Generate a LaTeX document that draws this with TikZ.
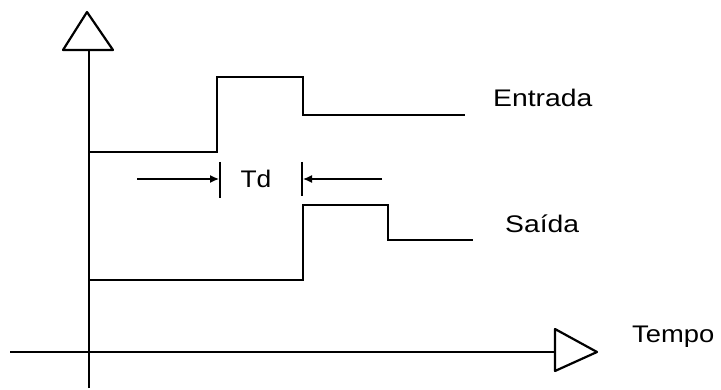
\documentclass[tikz,border=0pt]{standalone}
\usepackage{fontspec}
\setmainfont{Liberation Sans}
\usepackage{graphicx}
\usetikzlibrary{arrows.meta}
\begin{document}
\begin{tikzpicture}[x=1pt,y=-1pt,
  axis/.style={line width=2.6pt},
  sig/.style={line width=2.2pt,line join=miter},
  head/.style={line width=2.2pt,line join=round,fill=white},
  dim/.style={line width=1.3pt,-{Latex[length=9pt,width=8pt]}},
  bar/.style={line width=2pt},
  lbl/.style={inner sep=0pt,font=\fontsize{24}{26}\selectfont}]
\useasboundingbox (0,0) rectangle (721,390);
% axes
\coordinate (vb) at (89,388);
\coordinate (vt) at (89,50);
\coordinate (hl) at (10,352);
\coordinate (hr) at (555,352);
\draw[axis] (vb) -- (vt);
\draw[axis] (hl) -- (hr);
\draw[head] (63,50) -- (87,12) -- (113,50) -- cycle;
\draw[head] (555,329) -- (597,352) -- (555,371) -- cycle;
% Entrada
\coordinate (e0) at (89,152);
\coordinate (e1) at (217,152);
\coordinate (e2) at (217,77);
\coordinate (e3) at (303,77);
\coordinate (e4) at (303,115);
\coordinate (e5) at (465,115);
\draw[sig] (e0) -- (e1) -- (e2) -- (e3) -- (e4) -- (e5);
% Saida
\coordinate (s0) at (89,280);
\coordinate (s1) at (303,280);
\coordinate (s2) at (303,205);
\coordinate (s3) at (388,205);
\coordinate (s4) at (388,240);
\coordinate (s5) at (473,240);
\draw[sig] (s0) -- (s1) -- (s2) -- (s3) -- (s4) -- (s5);
% Td
\coordinate (b1t) at (220,162);
\coordinate (b1b) at (220,198);
\coordinate (b2t) at (302,162);
\coordinate (b2b) at (302,196);
\draw[bar] (b1t) -- (b1b);
\draw[bar] (b2t) -- (b2b);
\coordinate (a1) at (137,179);
\coordinate (a1e) at (219,179);
\coordinate (a2) at (382,179);
\coordinate (a2e) at (303,179);
\draw[dim] (a1) -- (a1e);
\draw[dim] (a2) -- (a2e);
\node[lbl] (td) at (256,179) {\scalebox{1.1}[1]{Td}};
% labels
\node[lbl,anchor=base west] (entrada) at (493,107) {\scalebox{1.18}[1]{Entrada}};
\node[lbl,anchor=base west] (saida) at (505,233) {\scalebox{1.18}[1]{Saída}};
\node[lbl,anchor=base west] (tempo) at (632,343) {\scalebox{1.14}[1]{Tempo}};
\end{tikzpicture}
\end{document}
